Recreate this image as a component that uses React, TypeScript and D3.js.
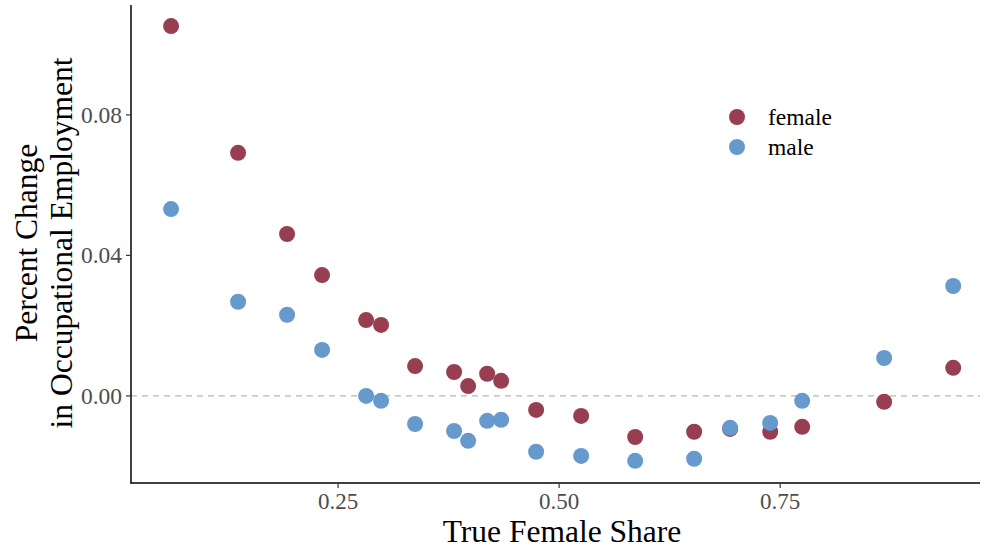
import React from "react";
import * as d3 from "d3";

const shares = [0.0611, 0.1369, 0.1923, 0.2319, 0.2817, 0.2986, 0.3371, 0.3812, 0.3971, 0.4186, 0.4344, 0.474, 0.5249, 0.586, 0.6527, 0.6934, 0.7387, 0.7749, 0.8676, 0.9457];
const femaleChange = [0.1053, 0.0692, 0.0461, 0.0344, 0.0216, 0.0202, 0.0085, 0.0068, 0.0028, 0.0063, 0.0043, -0.004, -0.0057, -0.0117, -0.0102, -0.0094, -0.0102, -0.0088, -0.0017, 0.008];
const maleChange = [0.0532, 0.0268, 0.0231, 0.0131, 0.0, -0.0014, -0.008, -0.01, -0.0128, -0.0071, -0.0068, -0.0159, -0.0171, -0.0185, -0.0179, -0.0091, -0.0077, -0.0014, 0.0108, 0.0313];
const xTicks = [0.25, 0.5, 0.75];
const yTicks = [0.0, 0.04, 0.08];
const seriesNames = ["female", "male"];
const seriesColors = ["#973F51", "#6699CC"];

export default function App() {
  const W = 984, H = 550;
  const left = 131, right = 980, top = 5, bottom = 483;
  const x = d3.scaleLinear().domain([0.0158, 0.976]).range([left, right]);
  const y = d3.scaleLinear().domain([-0.0248, 0.1113]).range([bottom, top]);
  const font = "'Liberation Serif', 'Times New Roman', serif";
  const series = [femaleChange, maleChange];

  return (
    <svg width={W} height={H} style={{ position: "absolute", left: 0, top: 0, background: "#fff" }} fontFamily={font}>
      <line x1={left} x2={right} y1={y(0)} y2={y(0)} stroke="#b5b5b5" strokeWidth={1.2} strokeDasharray="6,5" />
      {series.map((vals, si) =>
        vals.map((v, i) => (
          <circle key={si + "-" + i} cx={x(shares[i])} cy={y(v)} r={8} fill={seriesColors[si]} />
        ))
      )}
      <line x1={left} x2={left} y1={top} y2={bottom + 0.5} stroke="#000" strokeWidth={1.5} />
      <line x1={left - 0.5} x2={right} y1={bottom} y2={bottom} stroke="#000" strokeWidth={1.5} />
      {yTicks.map((t) => (
        <g key={"y" + t}>
          <line x1={left - 5} x2={left} y1={y(t)} y2={y(t)} stroke="#333" strokeWidth={1.2} />
          <text x={left - 9} y={y(t)} dy="0.33em" textAnchor="end" fontSize={23.5} fill="#4d4d4d">{t.toFixed(2)}</text>
        </g>
      ))}
      {xTicks.map((t) => (
        <g key={"x" + t}>
          <line x1={x(t)} x2={x(t)} y1={bottom} y2={bottom + 5} stroke="#333" strokeWidth={1.2} />
          <text x={x(t)} y={508.5} textAnchor="middle" fontSize={23} fill="#4d4d4d">{t.toFixed(2)}</text>
        </g>
      ))}
      <text x={562} y={542} textAnchor="middle" fontSize={31.5} fill="#000">True Female Share</text>
      <g transform={`translate(0, 243) rotate(-90)`}>
        <text x={0} y={37} textAnchor="middle" fontSize={31.5} fill="#000">Percent Change</text>
        <text x={0} y={72} textAnchor="middle" fontSize={31.5} fill="#000">in Occupational Employment</text>
      </g>
      {seriesNames.map((n, i) => (
        <g key={n}>
          <circle cx={737} cy={117 + i * 30} r={8} fill={seriesColors[i]} />
          <text x={768} y={117 + i * 30} dy="0.33em" fontSize={23.5} fill="#000">{n}</text>
        </g>
      ))}
    </svg>
  );
}
